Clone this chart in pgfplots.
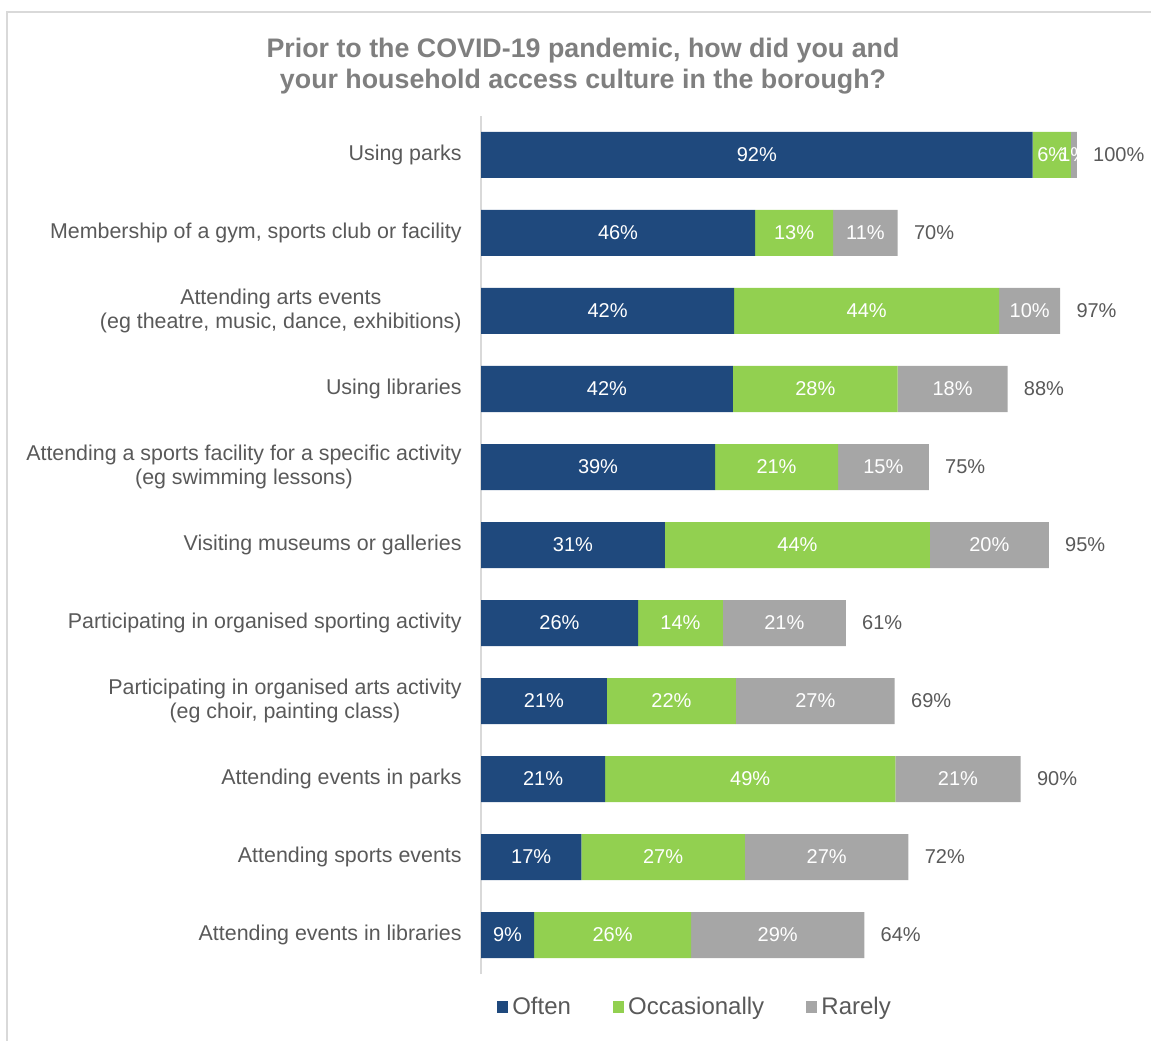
\documentclass[border=0pt]{standalone}
\usepackage{pgfplots}
\pgfplotsset{compat=1.18}
\usepackage{pgfplotstable}
\usepackage{fontspec}
\setmainfont{Liberation Sans}
\definecolor{cblue}{RGB}{31,73,125}
\definecolor{cgreen}{RGB}{146,208,80}
\definecolor{cgray}{RGB}{166,166,166}
\definecolor{ctext}{RGB}{89,89,89}
\definecolor{ctitle}{RGB}{127,127,127}
\definecolor{cframe}{RGB}{217,217,217}

\pgfplotstableread{
y often occ rare ol cl rl tl
10 92.4 6.4 1.0 92 6 1 100
9 45.9 13.1 10.8 46 13 11 70
8 42.4 44.4 10.2 42 44 10 97
7 42.2 27.6 18.4 42 28 18 88
6 39.2 20.6 15.2 39 21 15 75
5 30.8 44.4 19.9 31 44 20 95
4 26.3 14.2 20.6 26 14 21 61
3 21.1 21.6 26.6 21 22 27 69
2 20.8 48.6 21.0 21 49 21 90
1 16.8 27.4 27.4 17 27 27 72
0 8.9 26.3 29.0 9 26 29 64
}\datatable

\begin{document}
\begin{tikzpicture}
\useasboundingbox (0,0) rectangle (575.5pt,520pt);
\draw[cframe, line width=1pt] (3.5pt,-5pt) -- (3.5pt,514pt) -- (580pt,514pt);
\node[align=center, text=ctitle, font=\bfseries\fontsize{13.4}{15.5}\selectfont] at (291.5pt,487pt)
  {Prior to the COVID-19 pandemic, how did you and\\your household access culture in the borough?};

\begin{axis}[
  at={(240.5pt,33pt)}, anchor=south west,
  scale only axis, width=298.5pt, height=429pt,
  xbar stacked, bar width=23pt,
  xmin=0, xmax=100, ymin=-0.5, ymax=10.5,
  axis x line=none, axis y line*=left,
  y axis line style={cframe, line width=1pt},
  ytick={0,...,10},
  yticklabels={
    Attending events in libraries,
    Attending sports events,
    Attending events in parks,
    {Participating in organised arts activity\\(eg choir, painting class)},
    Participating in organised sporting activity,
    Visiting museums or galleries,
    {Attending a sports facility for a specific activity\\(eg swimming lessons)},
    Using libraries,
    {Attending arts events\\(eg theatre, music, dance, exhibitions)},
    {Membership of a gym, sports club or facility},
    Using parks},
  major tick length=0pt,
  yticklabel style={align=center, text=ctext, inner sep=0pt, xshift=-9.5pt,
    font=\fontsize{10.7}{12}\selectfont},
  clip=false,
  legend style={draw=none, at={(axis description cs:0.36,-0.0385)}, anchor=center,
    legend columns=-1, font=\fontsize{12}{14}\selectfont, text=ctext,
    /tikz/every even column/.append style={column sep=19pt},
    legend cell align=left},
  legend image code/.code={\fill[#1] (0pt,-2.8pt) rectangle (5.6pt,2.8pt);},
]
\addplot[fill=cblue, draw=none] table[x=often, y=y]{\datatable};
\addplot[fill=cgreen, draw=none] table[x=occ, y=y]{\datatable};
\addplot[fill=cgray, draw=none] table[x=rare, y=y]{\datatable};
\legend{Often, Occasionally, Rarely}
\end{axis}

\begin{axis}[
  at={(240.5pt,33pt)}, anchor=south west,
  scale only axis, width=298.5pt, height=429pt,
  xmin=0, xmax=100, ymin=-0.5, ymax=10.5,
  hide axis, clip=false,
  point meta=explicit symbolic,
  nodes near coords={\pgfplotspointmeta\%},
]
\addplot[draw=none, mark=none, every node near coord/.append style={anchor=center, text=white, font=\fontsize{10}{12}\selectfont}]
  table[x expr=\thisrow{often}/2, y=y, meta=ol]{\datatable};
\addplot[draw=none, mark=none, every node near coord/.append style={anchor=center, text=white, font=\fontsize{10}{12}\selectfont}]
  table[x expr=\thisrow{often}+\thisrow{occ}/2, y=y, meta=cl]{\datatable};
\addplot[draw=none, mark=none, every node near coord/.append style={anchor=center, text=white, font=\fontsize{10}{12}\selectfont}]
  table[x expr=\thisrow{often}+\thisrow{occ}+\thisrow{rare}/2, y=y, meta=rl]{\datatable};
\addplot[draw=none, mark=none, every node near coord/.append style={anchor=west, inner sep=0pt, xshift=8pt, text=ctext, font=\fontsize{10}{12}\selectfont}]
  table[x expr=\thisrow{often}+\thisrow{occ}+\thisrow{rare}, y=y, meta=tl]{\datatable};
\end{axis}
\end{tikzpicture}
\end{document}
